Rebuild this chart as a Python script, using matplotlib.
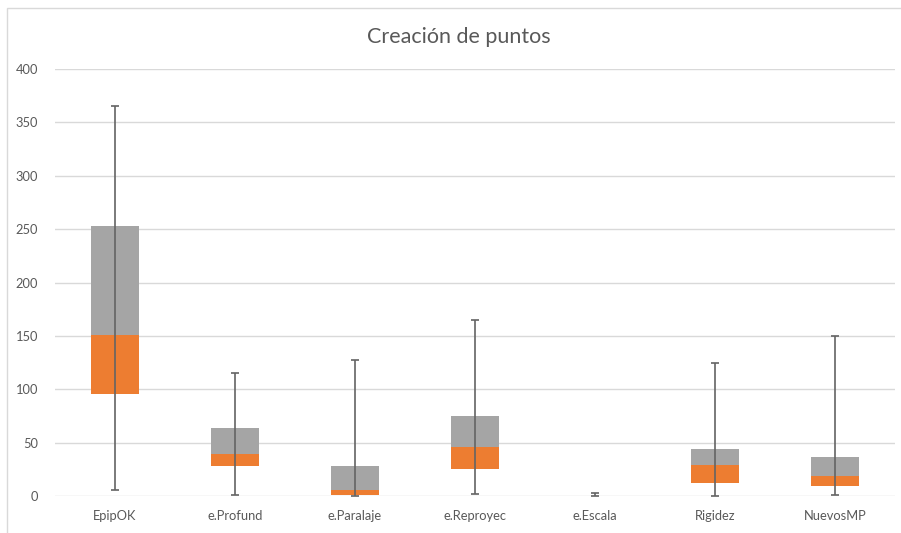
import matplotlib
matplotlib.use("Agg")
import matplotlib.pyplot as plt
from matplotlib.patches import Rectangle
import numpy as np

plt.rcParams['font.family'] = ['Lato', 'DejaVu Sans']

categories = ["EpipOK", "e.Profund", "e.Paralaje", "e.Reproyec", "e.Escala", "Rigidez", "NuevosMP"]
minimo = [6, 1, 0, 2, 0, 0, 1]
q1 = [96, 28, 1, 25, 0, 12, 9]
mediana = [151, 39, 6, 46, 0, 29, 19]
q3 = [253, 64, 28, 75, 0, 44, 37]
maximo = [365, 115, 127, 165, 3, 125, 150]

text_color = "#595959"
grid_color = "#D9D9D9"

fig = plt.figure(figsize=(9.01, 5.33), dpi=100)
ax = fig.add_axes([55 / 901, 37 / 533, 840 / 901, 427 / 533])

x = np.arange(len(categories))
q1a = np.array(q1)
meda = np.array(mediana)
q3a = np.array(q3)
mina = np.array(minimo)
maxa = np.array(maximo)

width = 0.4
ax.bar(x, meda - q1a, width, bottom=q1a, color="#ED7D31", linewidth=0, zorder=2)
ax.bar(x, q3a - meda, width, bottom=meda, color="#A5A5A5", linewidth=0, zorder=2)
ax.errorbar(x, q3a, yerr=[q3a - mina, maxa - q3a], fmt="none", ecolor="#646464",
            elinewidth=1.2, capsize=3, capthick=1.2, zorder=3)

ax.set_xlim(-0.5, len(categories) - 0.5)
ax.set_ylim(0, 400)
ax.set_yticks(np.arange(0, 401, 50))
ax.set_xticks(x)
ax.set_xticklabels(categories)
ax.yaxis.grid(True, color=grid_color, linewidth=1.0, zorder=0)
ax.set_axisbelow(True)
for s in ax.spines.values():
    s.set_visible(False)
ax.tick_params(axis="both", length=0, colors=text_color, labelsize=9.3)
ax.tick_params(axis="y", pad=12)
ax.tick_params(axis="x", pad=10)
for lbl in ax.get_xticklabels() + ax.get_yticklabels():
    lbl.set_color(text_color)

fig.text(459 / 901, 1 - 37 / 533, "Creación de puntos", ha="center", va="center",
         fontsize=15.5, color=text_color)

fig.patches.append(Rectangle((7 / 901, -0.1), 1.2, 1 - 8 / 533 + 0.1,
                             transform=fig.transFigure, fill=False,
                             edgecolor=grid_color, linewidth=1.0))

fig.savefig("out.png", dpi=100)
